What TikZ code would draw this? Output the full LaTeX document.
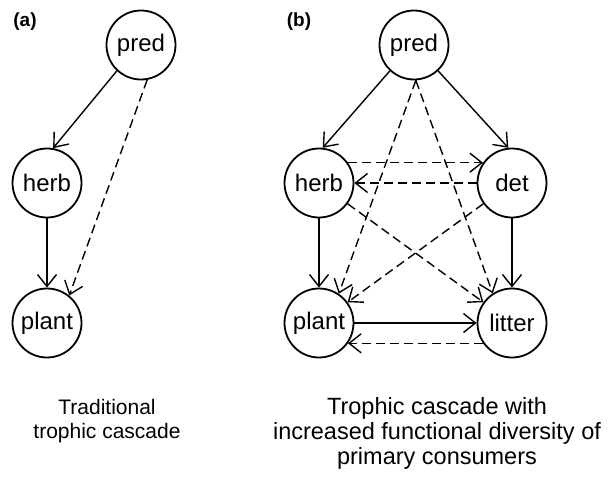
\documentclass[tikz,border=0pt]{standalone}
\usepackage{fontspec}
\setmainfont{Liberation Sans}
\usetikzlibrary{arrows.meta}
\begin{document}
\begin{tikzpicture}[x=1pt,y=-1pt,
  sp/.style={circle, draw, line width=1.8pt, minimum size=69pt, inner sep=0pt,
    font=\fontsize{24}{28}\selectfont},
  link/.style={line width=1.4pt,
    -{Straight Barb[length=12pt,width=19pt,line width=1.4pt]}},
  weak/.style={link, dash pattern=on 9pt off 5pt},
  panel/.style={font=\fontsize{19}{21}\selectfont\bfseries}]
\useasboundingbox (0,0) rectangle (612,490);

% panel (a): traditional cascade
\node[panel] (la) at (25,22) {(a)};
\node[sp] (apred)  at (141,45)  {pred};
\node[sp] (aherb)  at (47,183)  {herb};
\node[sp] (aplant) at (47,323)  {plant};
\draw[link] (apred.-133) -- (aherb.80);
\draw[link] (aherb) -- (aplant);
\draw[weak] (apred.-80) -- (aplant.51);

% panel (b): cascade with detritus pathway
\node[panel] (lb) at (299,22) {(b)};
\node[sp] (bpred)   at (414,45)  {pred};
\node[sp] (bherb)   at (319,183) {herb};
\node[sp] (bdet)    at (512,183) {det};
\node[sp] (bplant)  at (319,323) {plant};
\node[sp] (blitter) at (512,323) {litter};

\draw[link] (bpred.-133) -- (bherb.84);
\draw[link] (bpred.-47) -- (bdet.96);
\draw[link] (bherb) -- (bplant);
\draw[link] (bdet) -- (blitter);
\draw[link] (bplant) -- (blitter);

\draw[weak] (bpred.-87) -- (bplant.56);
\draw[weak] (bpred.-87) -- (blitter.123);
\draw[weak] (bherb.35) -- (bdet.145);
\draw[weak] (bdet) -- (bherb);
\draw[weak] (bherb) -- (blitter);
\draw[weak] (bdet) -- (bplant);
\draw[weak] (blitter.-145) -- (bplant.-35);

% captions
\node[align=center, font=\fontsize{21}{24}\selectfont] (ca) at (107,421)
  {Traditional\\trophic cascade};
\node[align=center, font=\fontsize{23.5}{25}\selectfont] (cb) at (437,433)
  {Trophic cascade with\\increased functional diversity of\\primary consumers};
\end{tikzpicture}
\end{document}
